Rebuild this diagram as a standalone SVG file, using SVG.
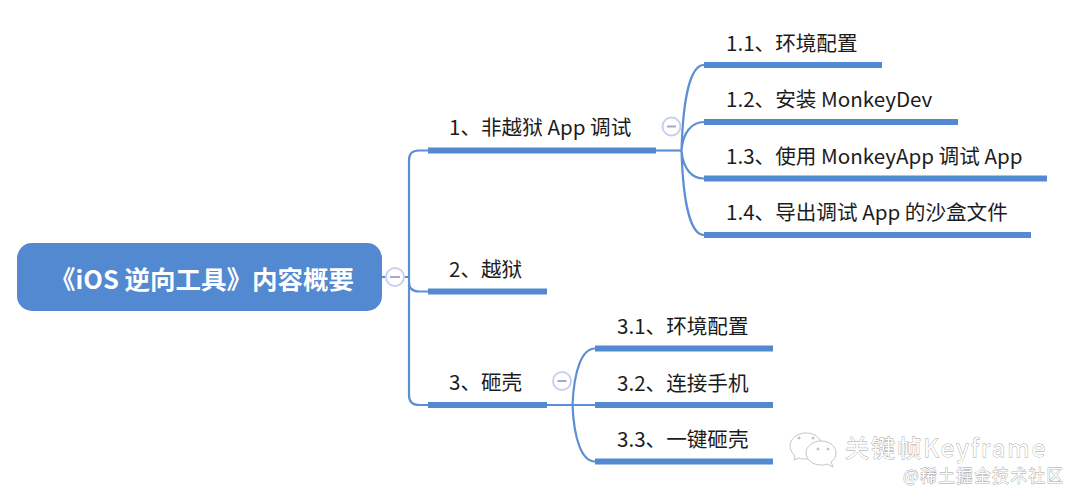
<svg xmlns="http://www.w3.org/2000/svg" width="1080" height="500" viewBox="0 0 1080 500">
<style>
text{font-family:"Noto Sans CJK SC","Open Sans","Noto Sans",sans-serif}
.t{font-size:20.600px;fill:#1c1c1c}
.bar{fill:#5389d0}
.c{fill:none;stroke:#5b8fd3;stroke-width:2.200}
.cc{fill:#fff;stroke:#c9cff0;stroke-width:2}
.m{stroke:#a9a6cf;stroke-width:2}
.wm{fill:#fff;stroke:#a0a0a0;stroke-width:.8;paint-order:stroke}
.wb{fill:#fff;stroke:#c4c4c4;stroke-width:1}
</style>
<rect width="1080" height="500" fill="#fff"/>
<g id="connectors">
<path class="c" d="M382 277H395"/>
<path class="c" d="M405 277H409M409 277V160Q409 150.500 419 150.500H428M409 277V282Q409 291.500 419 291.500H428M409 277V395Q409 405 419 405H428"/>
<path class="c" d="M656 150.500H681.500"/>
<path class="c" d="M681.500 150.500C683 100 690 65 704 65M681.500 150.500C683 132 692 122 704 122M681.500 150.500C683 169 692 178.500 704 178.500M681.500 150.500C683 200 690 235 704 235"/>
<path class="c" d="M547 405H595M572.500 405C574 370 582 348.500 595 348.500M572.500 405C574 440 582 461.500 595 461.500"/>
</g>
<g id="root"><rect x="17" y="243" width="365" height="68" rx="15" fill="#5389d0"/><text x="50" y="289" fill="#fff" font-weight="700" style="font-size:25.500px">《iOS 逆向工具》内容概要</text></g>
<g id="root-toggle"><circle class="cc" cx="395" cy="277" r="9"/><path class="m" d="M390 277H400"/></g>
<g id="n1"><rect class="bar" x="428" y="147.500" width="228" height="6"/><text class="t" x="449" y="135">1、非越狱 App 调试</text></g>
<g id="n1-toggle"><circle class="cc" cx="671.500" cy="126.500" r="9"/><path class="m" d="M667 126.500H676"/></g>
<g id="n2"><rect class="bar" x="428" y="288.500" width="119" height="6"/><text class="t" x="449" y="276.500">2、越狱</text></g>
<g id="n3"><rect class="bar" x="428" y="402" width="119" height="6"/><text class="t" x="449" y="389.500">3、砸壳</text></g>
<g id="n3-toggle"><circle class="cc" cx="562" cy="381" r="9"/><path class="m" d="M557.500 381H566.500"/></g>
<g id="n11"><rect class="bar" x="704" y="62" width="178" height="6"/><text class="t" x="726" y="50.500">1.1、环境配置</text></g>
<g id="n12"><rect class="bar" x="704" y="119" width="254" height="6"/><text class="t" x="726" y="106.500">1.2、安装 MonkeyDev</text></g>
<g id="n13"><rect class="bar" x="704" y="175.500" width="343" height="6"/><text class="t" x="726" y="163.500">1.3、使用 MonkeyApp 调试 App</text></g>
<g id="n14"><rect class="bar" x="704" y="232" width="327" height="6"/><text class="t" x="726" y="219.500">1.4、导出调试 App 的沙盒文件</text></g>
<g id="n31"><rect class="bar" x="595" y="345.500" width="178" height="6"/><text class="t" x="617" y="333.500">3.1、环境配置</text></g>
<g id="n32"><rect class="bar" x="595" y="402" width="178" height="6"/><text class="t" x="617" y="390.500">3.2、连接手机</text></g>
<g id="n33"><rect class="bar" x="595" y="458.500" width="178" height="6"/><text class="t" x="617" y="446.500">3.3、一键砸壳</text></g>
<g id="watermark">
<path class="wb" d="M806 433c-9 0-16 6-16 13 0 4 2 7 5 10l-1 4 5-2c2 1 5 1 7 1 9 0 16-6 16-13s-7-13-16-13z"/>
<path class="wb" d="M821 441c-9 0-15 6-15 12s6 12 15 12c2 0 4 0 6-1l6 3-2-5c3-2 5-5 5-9 0-6-6-12-15-12z"/>
<circle cx="799" cy="438" r="1.500" fill="#c4c4c4"/><circle cx="813" cy="438" r="1.500" fill="#c4c4c4"/><circle cx="818" cy="449" r="1.500" fill="#c4c4c4"/><circle cx="828" cy="449" r="1.500" fill="#c4c4c4"/>
<text class="wm" x="845" y="457" style="font-size:24px" textLength="200">关键帧Keyframe</text>
<text class="wm" x="903" y="482" style="font-size:16.500px" textLength="160">@稀土掘金技术社区</text>
</g>
</svg>
